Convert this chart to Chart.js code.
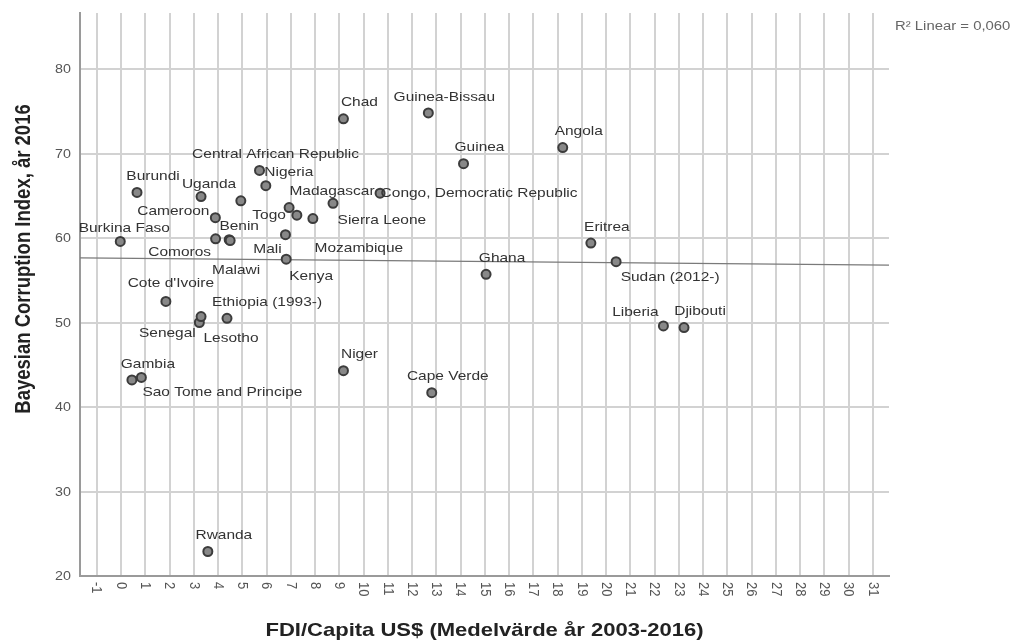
<!DOCTYPE html>
<html>
<head>
<meta charset="utf-8">
<title>FDI/Capita vs Bayesian Corruption Index</title>
<script src="https://cdn.jsdelivr.net/npm/chart.js@4"></script>
<style>
  html, body { margin: 0; padding: 0; background: #fff; }
  #chart { display: block; }
</style>
</head>
<body>
<canvas id="chart" width="1017" height="644"></canvas>
<script>
// data
const countries = ['Burkina Faso', 'Burundi', 'Uganda', '', 'Central African Republic', 'Nigeria',
  'Cameroon', 'Comoros', 'Benin', 'Malawi', 'Togo', 'Mozambique', 'Sierra Leone', 'Mali', 'Kenya',
  'Madagascar', 'Congo, Democratic Republic', 'Chad', 'Guinea-Bissau', 'Guinea', 'Angola', 'Eritrea',
  'Sudan (2012-)', 'Ghana', 'Liberia', 'Djibouti', 'Cape Verde', 'Niger', "Cote d'Ivoire", 'Senegal',
  'Lesotho', 'Ethiopia (1993-)', 'Gambia', 'Sao Tome and Principe', 'Rwanda'];
const fdiPerCapita = [-0.03, 0.66, 3.30, 4.94, 5.71, 5.97, 3.89, 3.90, 4.46, 4.50, 6.93, 7.25, 7.91,
  6.78, 6.81, 8.74, 10.68, 9.17, 12.67, 14.12, 18.21, 19.37, 20.41, 15.05, 22.36, 23.21, 12.81, 9.17,
  1.85, 3.23, 3.30, 4.37, 0.45, 0.84, 3.58];
const corruption = [59.6, 65.4, 64.9, 64.4, 68.0, 66.2, 62.4, 59.9, 59.8, 59.7, 63.6, 62.7, 62.3,
  60.4, 57.5, 64.1, 65.3, 74.1, 74.8, 68.8, 70.7, 59.4, 57.2, 55.7, 49.6, 49.4, 41.7, 44.3,
  52.5, 50.0, 50.7, 50.5, 43.2, 43.5, 22.9];

// fit line end points (R2 linear)
const fitX = [-1.69, 31.66];
const fitY = [57.65, 56.78];
const fitLabel = 'R\u00b2 Linear = 0,060';

const xTicks = [-1, 0, 1, 2, 3, 4, 5, 6, 7, 8, 9, 10, 11, 12, 13, 14, 15, 16, 17, 18, 19, 20,
  21, 22, 23, 24, 25, 26, 27, 28, 29, 30, 31];
const yTicks = [20, 30, 40, 50, 60, 70, 80];
const xTitle = 'FDI/Capita US$ (Medelvärde år 2003-2016)';
const yTitle = 'Bayesian Corruption Index, år 2016';

// label placement (centre offset from point, px); default is up-right
const labelNudge = {
  'Burkina Faso': [4, -13], 'Uganda': [8, -12], 'Nigeria': [23, -13], 'Cameroon': [-42, -6],
  'Benin': [10, -13], 'Comoros': [-36, 14], 'Malawi': [6, 30], 'Togo': [-20, 8],
  'Mozambique': [62, 33], 'Sierra Leone': [69, 2], 'Mali': [-18, 15], 'Kenya': [25, 17],
  'Madagascar': [-1, -12], 'Congo, Democratic Republic': [99, 0], "Cote d'Ivoire": [5, -18],
  'Ethiopia (1993-)': [40, -16], 'Senegal': [-32, 11], 'Lesotho': [30, 22],
  'Sao Tome and Principe': [81, 15], 'Sudan (2012-)': [54, 16], 'Liberia': [-28, -13]
};
const defaultNudge = [16, -16];

const FONT = '"Liberation Sans", Arial, sans-serif';
const SX = 1.19; // the picture is a bit wider than tall, text looks stretched

function txt(ctx, s, x, y, font, color, align, base) {
  ctx.save();
  ctx.translate(x, y);
  ctx.scale(SX, 1);
  ctx.font = font;
  ctx.fillStyle = color;
  ctx.textAlign = align;
  ctx.textBaseline = base;
  ctx.fillText(s, 0, 0);
  ctx.restore();
}

const textPlugin = {
  id: 'textPlugin',
  afterDraw(chart) {
    const ctx = chart.ctx;
    const xs = chart.scales.x, ys = chart.scales.y;
    const area = chart.chartArea;

    // y ticks
    yTicks.forEach(v => {
      txt(ctx, String(v), 71, ys.getPixelForValue(v) + 1, '12px ' + FONT, '#555', 'right', 'middle');
    });

    // x ticks, rotated clockwise
    xTicks.forEach(v => {
      ctx.save();
      ctx.translate(xs.getPixelForValue(v), area.bottom + 6);
      ctx.rotate(Math.PI / 2);
      ctx.scale(1, SX);
      ctx.font = '13px ' + FONT;
      ctx.fillStyle = '#555';
      ctx.textAlign = 'left';
      ctx.textBaseline = 'middle';
      ctx.fillText(String(v), 0, 0);
      ctx.restore();
    });

    // axis titles
    txt(ctx, xTitle, (area.left + area.right) / 2, 631, 'bold 18.5px ' + FONT, '#222', 'center', 'middle');
    ctx.save();
    ctx.translate(24, 259);
    ctx.rotate(-Math.PI / 2);
    ctx.scale(1, SX);
    ctx.font = 'bold 18.5px ' + FONT;
    ctx.fillStyle = '#222';
    ctx.textAlign = 'center';
    ctx.textBaseline = 'middle';
    ctx.fillText(yTitle, 0, 0);
    ctx.restore();

    // fit line legend
    txt(ctx, fitLabel, 895, 27, '12.5px ' + FONT, '#666', 'left', 'middle');

    // point labels
    const meta = chart.getDatasetMeta(0);
    meta.data.forEach((pt, i) => {
      const name = countries[i];
      if (!name) return;
      const n = labelNudge[name] || defaultNudge;
      txt(ctx, name, pt.x + n[0], pt.y + n[1], '13px ' + FONT, '#333', 'center', 'middle');
    });
  }
};

const points = fdiPerCapita.map((x, i) => ({ x: x, y: corruption[i] }));
const fitLine = fitX.map((x, i) => ({ x: x, y: fitY[i] }));

const gridColor = '#d2d2d2';
const axisColor = '#9a9a9a';

new Chart(document.getElementById('chart').getContext('2d'), {
  type: 'scatter',
  data: {
    datasets: [
      {
        data: points,
        pointRadius: 4.5,
        pointBackgroundColor: '#888',
        pointBorderColor: '#3c3c3c',
        pointBorderWidth: 2,
        order: 0
      },
      {
        type: 'line',
        data: fitLine,
        borderColor: '#7a7a7a',
        borderWidth: 1.3,
        pointRadius: 0,
        fill: false,
        order: 1
      }
    ]
  },
  options: {
    responsive: false,
    animation: false,
    layout: { padding: { top: 13, right: 128, left: 0, bottom: 0 } },
    plugins: { legend: { display: false }, tooltip: { enabled: false } },
    scales: {
      x: {
        type: 'linear',
        min: -1.69,
        max: 31.66,
        afterBuildTicks: s => { s.ticks = xTicks.map(v => ({ value: v })); },
        afterFit: s => { s.height = 68; },
        ticks: { display: false },
        grid: { color: gridColor, lineWidth: 2, drawTicks: false },
        border: { color: axisColor, width: 2 }
      },
      y: {
        min: 20,
        max: 86.63,
        afterBuildTicks: s => { s.ticks = yTicks.map(v => ({ value: v })); },
        afterFit: s => { s.width = 80; },
        ticks: { display: false },
        grid: { color: gridColor, lineWidth: 2, drawTicks: false },
        border: { color: axisColor, width: 2 }
      }
    }
  },
  plugins: [textPlugin]
});
</script>
</body>
</html>
